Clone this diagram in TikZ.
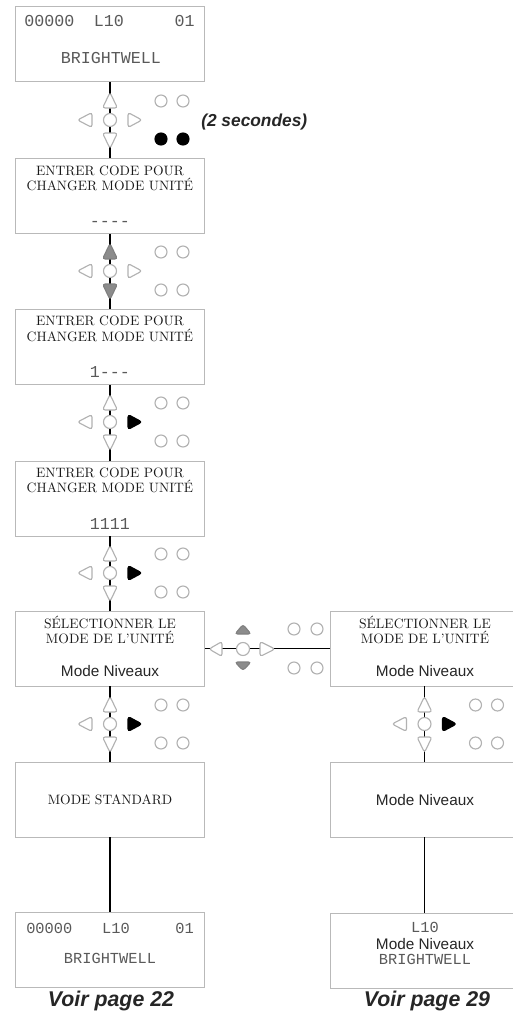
\documentclass[tikz,border=0pt]{standalone}
\usepackage{fontspec}
\newfontfamily\lcdfont{Liberation Mono}
\newfontfamily\labelfont{Liberation Sans}

% one keypad: centre x, centre y, up/down keys, right key, lower pair
\newcommand{\keypad}[5]{%
    \draw[#3] (#1,#2-27.5) -- (#1+7.5,#2-12) -- (#1-7.5,#2-12) -- cycle;
    \draw[#3] (#1,#2+28.5) -- (#1-7.5,#2+13) -- (#1+7.5,#2+13) -- cycle;
    \draw[key] (#1-32.5,#2) -- (#1-18,#2-7.5) -- (#1-18,#2+7.5) -- cycle;
    \draw[#4] (#1+32,#2) -- (#1+18,#2-7.5) -- (#1+18,#2+7.5) -- cycle;
    \draw[key] (#1,#2) circle[radius=6.5];
    \draw[key] (#1+51,#2-19) circle[radius=6] (#1+73,#2-19) circle[radius=6];
    \draw[#5] (#1+51,#2+19) circle[radius=6] (#1+73,#2+19) circle[radius=6];
}

\begin{document}
\begin{tikzpicture}[
        x=0.75pt, y=-0.75pt,
        screen/.style  ={draw=gray!55, line width=0.7pt, minimum width=141.75pt,
                         minimum height=56.25pt, inner sep=0pt},
        msg/.style     ={anchor=base, inner sep=0pt, text=black!90,
                         font=\fontsize{10.2}{12}\selectfont},
        lcd/.style     ={anchor=base, inner sep=0pt, text=black!65,
                         font=\lcdfont\fontsize{12.5}{14}\selectfont},
        lcdsmall/.style={lcd, font=\lcdfont\fontsize{11.5}{13}\selectfont},
        mode/.style    ={anchor=base, inner sep=0pt, text=black!85,
                         font=\labelfont\fontsize{11.5}{13}\selectfont},
        note/.style    ={anchor=base, inner sep=0pt, text=black!85,
                         font=\labelfont\bfseries\itshape\fontsize{13}{15}\selectfont},
        link/.style    ={line width=0.9pt},
        key/.style     ={draw=gray!60, fill=white, line width=0.85pt, rounded corners=2pt},
        keygray/.style ={draw=black!50, fill=black!45, line width=0.85pt, rounded corners=2pt},
        keyblack/.style={draw=black, fill=black, line width=0.85pt, rounded corners=2pt},
    ]
    \useasboundingbox (0,0) rectangle (513,1021);

    %% Left column -- screens
    \node[screen] (s1) at (110, 44)    {};
    \node[screen] (s2) at (110, 196)   {};
    \node[screen] (s3) at (110, 347)   {};
    \node[screen] (s4) at (110, 498.5) {};
    \node[screen] (s5) at (110, 648.5) {};
    \node[screen] (s6) at (110, 799.5) {};
    \node[screen] (s7) at (110, 950)   {};

    %% Right column -- screens
    \node[screen] (r5) at (424.5, 648.5) {};
    \node[screen] (r6) at (424.5, 799.5) {};
    \node[screen] (r7) at (424.5, 950.5) {};

    %% Connectors
    \foreach \a/\b in {s1/s2, s2/s3, s3/s4, s4/s5, s5/s6, s6/s7, s5/r5, r5/r6, r6/r7}
        \draw[link] (\a) -- (\b);

    %% Screen texts
    \node[lcd, anchor=base west] (s1a) at (24, 26.7)  {00000};
    \node[lcd]                   (s1b) at (109, 26.7) {L10};
    \node[lcd, anchor=base east] (s1c) at (195, 26.7) {01};
    \node[lcd]                   (s1d) at (111, 63)   {BRIGHTWELL};

    \node[msg] (s2a) at (110, 175)   {ENTRER CODE POUR};
    \node[msg] (s2b) at (110, 190.5) {CHANGER MODE UNITÉ};
    \node[lcd] (s2c) at (110, 226.5) {----};

    \node[msg] (s3a) at (110, 325.5) {ENTRER CODE POUR};
    \node[msg] (s3b) at (110, 341)   {CHANGER MODE UNITÉ};
    \node[lcd] (s3c) at (110, 377)   {1---};

    \node[msg] (s4a) at (110, 477)   {ENTRER CODE POUR};
    \node[msg] (s4b) at (110, 492.5) {CHANGER MODE UNITÉ};
    \node[lcd] (s4c) at (110, 529.5) {1111};

    \node[msg]  (s5a) at (110, 628) {SÉLECTIONNER LE};
    \node[msg]  (s5b) at (110, 643) {MODE DE L’UNITÉ};
    \node[mode] (s5c) at (110, 676) {Mode Niveaux};

    \node[msg] (s6a) at (110, 804) {MODE STANDARD};

    \node[lcdsmall, anchor=base west] (s7a) at (26, 933)  {00000};
    \node[lcdsmall]                   (s7b) at (116, 933) {L10};
    \node[lcdsmall, anchor=base east] (s7c) at (194, 933) {01};
    \node[lcdsmall]                   (s7d) at (110, 963) {BRIGHTWELL};

    \node[msg]  (r5a) at (425, 628) {SÉLECTIONNER LE};
    \node[msg]  (r5b) at (425, 643) {MODE DE L’UNITÉ};
    \node[mode] (r5c) at (425, 676) {Mode Niveaux};

    \node[mode] (r6a) at (425, 805) {Mode Niveaux};

    \node[lcdsmall] (r7a) at (425, 932) {L10};
    \node[mode]     (r7b) at (425, 949) {Mode Niveaux};
    \node[lcdsmall] (r7c) at (425, 964) {BRIGHTWELL};

    %% Keypads
    \keypad{110}{120}{key}{key}{keyblack}
    \keypad{110}{271}{keygray}{key}{key}
    \keypad{110}{422}{key}{keyblack}{key}
    \keypad{110}{573}{key}{keyblack}{key}
    \keypad{110}{724}{key}{keyblack}{key}
    \keypad{424.5}{724}{key}{keyblack}{key}

    %% Keypad between the two mode screens
    \draw[key] (209,649) -- (222,641.5) -- (222,656.5) -- cycle;
    \draw[key] (275,649) -- (260,641.5) -- (260,656.5) -- cycle;
    \draw[key] (243,649) circle[radius=6.5];
    \draw[keygray] (243,624.5) -- (251,634) -- (235,634) -- cycle;
    \draw[keygray] (243,670.5) -- (235,662) -- (251,662) -- cycle;
    \draw[key] (294,629) circle[radius=6] (317,629) circle[radius=6];
    \draw[key] (294,668) circle[radius=6] (317,668) circle[radius=6];

    %% Notes
    \node[note, anchor=base west] (hold) at (201, 126.5) {(2 secondes)};
    \node[note, font=\labelfont\bfseries\itshape\fontsize{16}{18}\selectfont]
        (see1) at (111, 1006) {Voir page 22};
    \node[note, font=\labelfont\bfseries\itshape\fontsize{16}{18}\selectfont]
        (see2) at (427, 1006) {Voir page 29};

\end{tikzpicture}
\end{document}
